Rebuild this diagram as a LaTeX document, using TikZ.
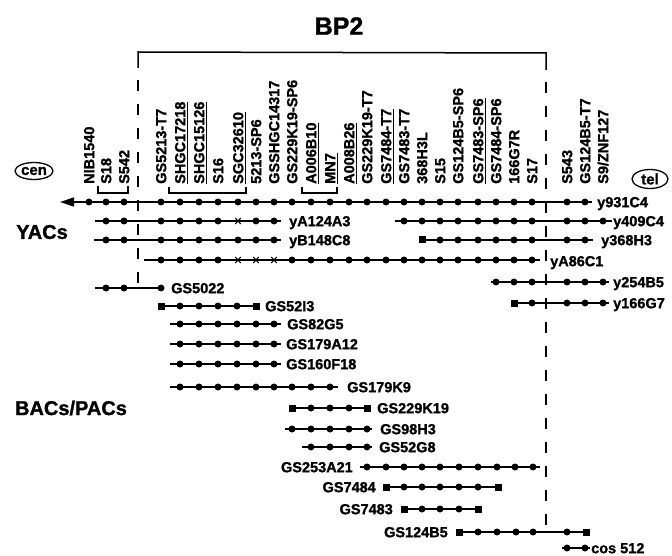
\documentclass[tikz,border=0pt]{standalone}
\usepackage{fontspec}
\setmainfont[BoldFeatures={FakeBold=1.2}]{Liberation Sans}
\usetikzlibrary{arrows.meta,shapes.geometric}

\newcommand\CloneLine[4]{% name, y, x start, x end
  \coordinate (#1-s) at (#3,#2);
  \coordinate (#1-e) at (#4,#2);
  \draw[clone] (#1-s) -- (#1-e);}
\newcommand\Dots[2]{\foreach \xx in {#2} {\fill (\xx,#1) circle (3.5pt);}}
\newcommand\Squares[2]{\foreach \xx in {#2} {\fill ([shift={(-3.5pt,-3.5pt)}]\xx,#1) rectangle ++(7pt,7pt);}}
\newcommand\Crosses[2]{\foreach \xx in {#2} {\draw[line width=1.1pt] ([shift={(-2.7pt,-3pt)}]\xx,#1) -- ++(5.4pt,6pt) ([shift={(-2.7pt,3pt)}]\xx,#1) -- ++(5.4pt,-6pt);}}
\newcommand\myul[1]{\setbox0\hbox{#1}\rlap{\rule[-2.6pt]{\wd0}{1.1pt}}\box0}

\begin{document}
\begin{tikzpicture}[x=1pt,y=-1pt,
  clone/.style={line width=1.6pt},
  frame/.style={line width=1.5pt},
  brk/.style={line width=1.3pt},
  rlab/.style={font=\bfseries\fontsize{14.5}{15}\selectfont, inner sep=0pt, text height=10.4pt, text depth=0pt},
  tlab/.style={rlab, rotate=90, anchor=west},
  big/.style={font=\bfseries\fontsize{20}{22}\selectfont, inner sep=0pt},
  oval/.style={draw, ellipse, line width=1.3pt, inner sep=0pt, font=\bfseries\fontsize{15}{16}\selectfont}
]
\useasboundingbox (0,0) rectangle (672,556);

% title and frame
\node[font=\bfseries\fontsize{25}{27}\selectfont, inner sep=0pt] (bp2) at (339,26) {BP2};
\coordinate (fl0) at (138,68); \coordinate (fl1) at (138,52);
\coordinate (fr1) at (546,53); \coordinate (fr0) at (546,70);
\draw[frame] (fl0) -- (fl1) -- (fr1) -- (fr0);
\coordinate (fla) at (138,80); \coordinate (flb) at (138,283);
\coordinate (fra) at (546,82); \coordinate (frb) at (546,530);
\draw[frame, dash pattern=on 11pt off 13pt] (fla) -- (flb);
\draw[frame, dash pattern=on 11pt off 13pt] (fra) -- (frb);

% ends
\node[oval, minimum width=38pt, minimum height=17pt] (cen) at (34,171) {cen};
\node[oval, minimum width=36pt, minimum height=19pt] (tel) at (650,179) {tel};

% group labels
\node[big] (yacs) at (42,232) {YACs};
\node[big] (bacs) at (71,408) {BACs/PACs};

% marker labels
\node[tlab] (m1) at (89,184) {NIB1540};
\node[tlab] (m2) at (106,184) {S18};
\node[tlab] (m3) at (124,184) {S542};
\node[tlab] (m4) at (161,184) {GS5213-T7};
\node[tlab] (m5) at (180,184) {\myul{SHGC17218}};
\node[tlab] (m6) at (199,184) {\myul{SHGC15126}};
\node[tlab] (m7) at (218,184) {S16};
\node[tlab] (m8) at (238,184) {\myul{SGC32610}};
\node[tlab] (m9) at (256,184) {5213-SP6};
\node[tlab] (m10) at (274,184) {GSSHGC14317};
\node[tlab] (m11) at (292,184) {GS229K19-SP6};
\node[tlab] (m12) at (311,184) {\myul{A006B10}};
\node[tlab] (m13) at (330,184) {\myul{MN7}};
\node[tlab] (m14) at (349,184) {\myul{A008B26}};
\node[tlab] (m15) at (367,184) {GS229K19-T7};
\node[tlab] (m16) at (386,184) {\myul{GS7484-T7}};
\node[tlab] (m17) at (404,184) {GS7483-T7};
\node[tlab] (m18) at (422,184) {368H3L};
\node[tlab] (m19) at (440,184) {S15};
\node[tlab] (m20) at (458,184) {GS124B5-SP6};
\node[tlab] (m21) at (478,184) {\myul{GS7483-SP6}};
\node[tlab] (m22) at (496,184) {GS7484-SP6};
\node[tlab] (m23) at (514,184) {166G7R};
\node[tlab] (m24) at (532,184) {S17};
\node[tlab] (m25) at (567,184) {S543};
\node[tlab] (m26) at (585,184) {GS124B5-T7};
\node[tlab] (m27) at (603,184) {S9/ZNF127};

% brackets
\draw[brk] (98,186) -- (98,193) -- (128,193) -- (128,186);
\draw[brk] (169,187) -- (169,193) -- (246,193) -- (246,187);
\draw[brk] (302,187) -- (302,193) -- (337,193) -- (337,187);

% main axis y931C4
\coordinate (ax-e) at (592,202);
\coordinate (ax-tip) at (60,202);
\draw[clone, -{Triangle[length=14pt,width=9pt]}] (ax-e) -- (ax-tip);
\Dots{202}{89,106,124,161,180,199,218,238,256,274,292,311,330,349,367,386,404,422,440,458,478,496,514,532,567,585}
\node[rlab, anchor=west] (l1) at (597,202) {y931C4};

% YACs
\CloneLine{r2}{221}{95}{281}
\Dots{221}{106,124,161,180,199,218,256,274}
\Crosses{221}{238}
\node[rlab, anchor=west] (l2) at (289,221) {yA124A3};

\CloneLine{r3}{221}{395}{612}
\Dots{221}{404,422,440,458,478,496,514,532,567,585,603}
\node[rlab, anchor=west] (l3) at (613,221) {y409C4};

\CloneLine{r4}{240}{94}{281}
\Dots{240}{106,124,161,180,199,218,238,256,274}
\node[rlab, anchor=west] (l4) at (289,240) {yB148C8};

\CloneLine{r5}{240}{422}{593}
\Squares{240}{422}
\Dots{240}{440,458,478,496,514,532,567,585}
\node[rlab, anchor=west] (l5) at (601,240) {y368H3};

\CloneLine{r6}{260}{144}{540}
\Dots{260}{161,180,199,218,292,311,330,349,367,386,404,422,440,458,478,496,514,532}
\Crosses{260}{238,256,274}
\node[rlab, anchor=west] (l6) at (550,261) {yA86C1};

\CloneLine{r7}{282}{491}{609}
\Dots{282}{496,514,532,567,585,603}
\node[rlab, anchor=west] (l7) at (613,282) {y254B5};

\CloneLine{r9}{303}{514}{609}
\Squares{303}{514}
\Dots{303}{532,567,585,603}
\node[rlab, anchor=west] (l9) at (613,303) {y166G7};

% BACs/PACs
\CloneLine{r8}{288}{95}{161}
\Dots{288}{106,124,161}
\node[rlab, anchor=west] (l8) at (171,288) {GS5022};

\CloneLine{r10}{306}{161}{256}
\Squares{306}{161,256}
\Dots{306}{180,199,218,237}
\node[rlab, anchor=west] (l10) at (265,306) {GS52I3};

\CloneLine{r11}{324}{170}{281}
\Dots{324}{180,199,218,237,256,274}
\node[rlab, anchor=west] (l11) at (287,324) {GS82G5};

\CloneLine{r12}{344}{170}{281}
\Dots{344}{180,199,218,237,256,274}
\node[rlab, anchor=west] (l12) at (286,344) {GS179A12};

\CloneLine{r13}{364}{170}{281}
\Dots{364}{180,199,218,237,256,274}
\node[rlab, anchor=west] (l13) at (286,364) {GS160F18};

\CloneLine{r14}{387}{170}{338}
\Dots{387}{180,199,218,237,256,274,292,311,330}
\node[rlab, anchor=west] (l14) at (347,387) {GS179K9};

\CloneLine{r15}{408}{292}{367}
\Squares{408}{292,367}
\Dots{408}{311,330,349}
\node[rlab, anchor=west] (l15) at (377,408) {GS229K19};

\CloneLine{r16}{429}{285}{372}
\Dots{429}{292,311,330,349,367}
\node[rlab, anchor=west] (l16) at (380,429) {GS98H3};

\CloneLine{r17}{447}{302}{372}
\Dots{447}{311,330,349,367}
\node[rlab, anchor=west] (l17) at (379,447) {GS52G8};

\node[rlab, anchor=east] (l18) at (353,467) {GS253A21};
\CloneLine{r18}{467}{360}{540}
\Dots{467}{367,386,404,422,440,459,478,497,515,533}

\node[rlab, anchor=east] (l19) at (376,487) {GS7484};
\CloneLine{r19}{487}{386}{498}
\Squares{487}{386,498}
\Dots{487}{404,422,440,459,478}

\node[rlab, anchor=east] (l20) at (393,509) {GS7483};
\CloneLine{r20}{509}{404}{478}
\Squares{509}{404,478}
\Dots{509}{422,440,459}

\node[rlab, anchor=east] (l21) at (448,532) {GS124B5};
\CloneLine{r21}{532}{459}{586}
\Squares{532}{459,586}
\Dots{532}{478,497,516,533,567}

\CloneLine{r22}{548}{562}{590}
\Dots{548}{567,585}
\node[rlab, anchor=west] (l22) at (591,548) {cos 512};
\end{tikzpicture}
\end{document}
